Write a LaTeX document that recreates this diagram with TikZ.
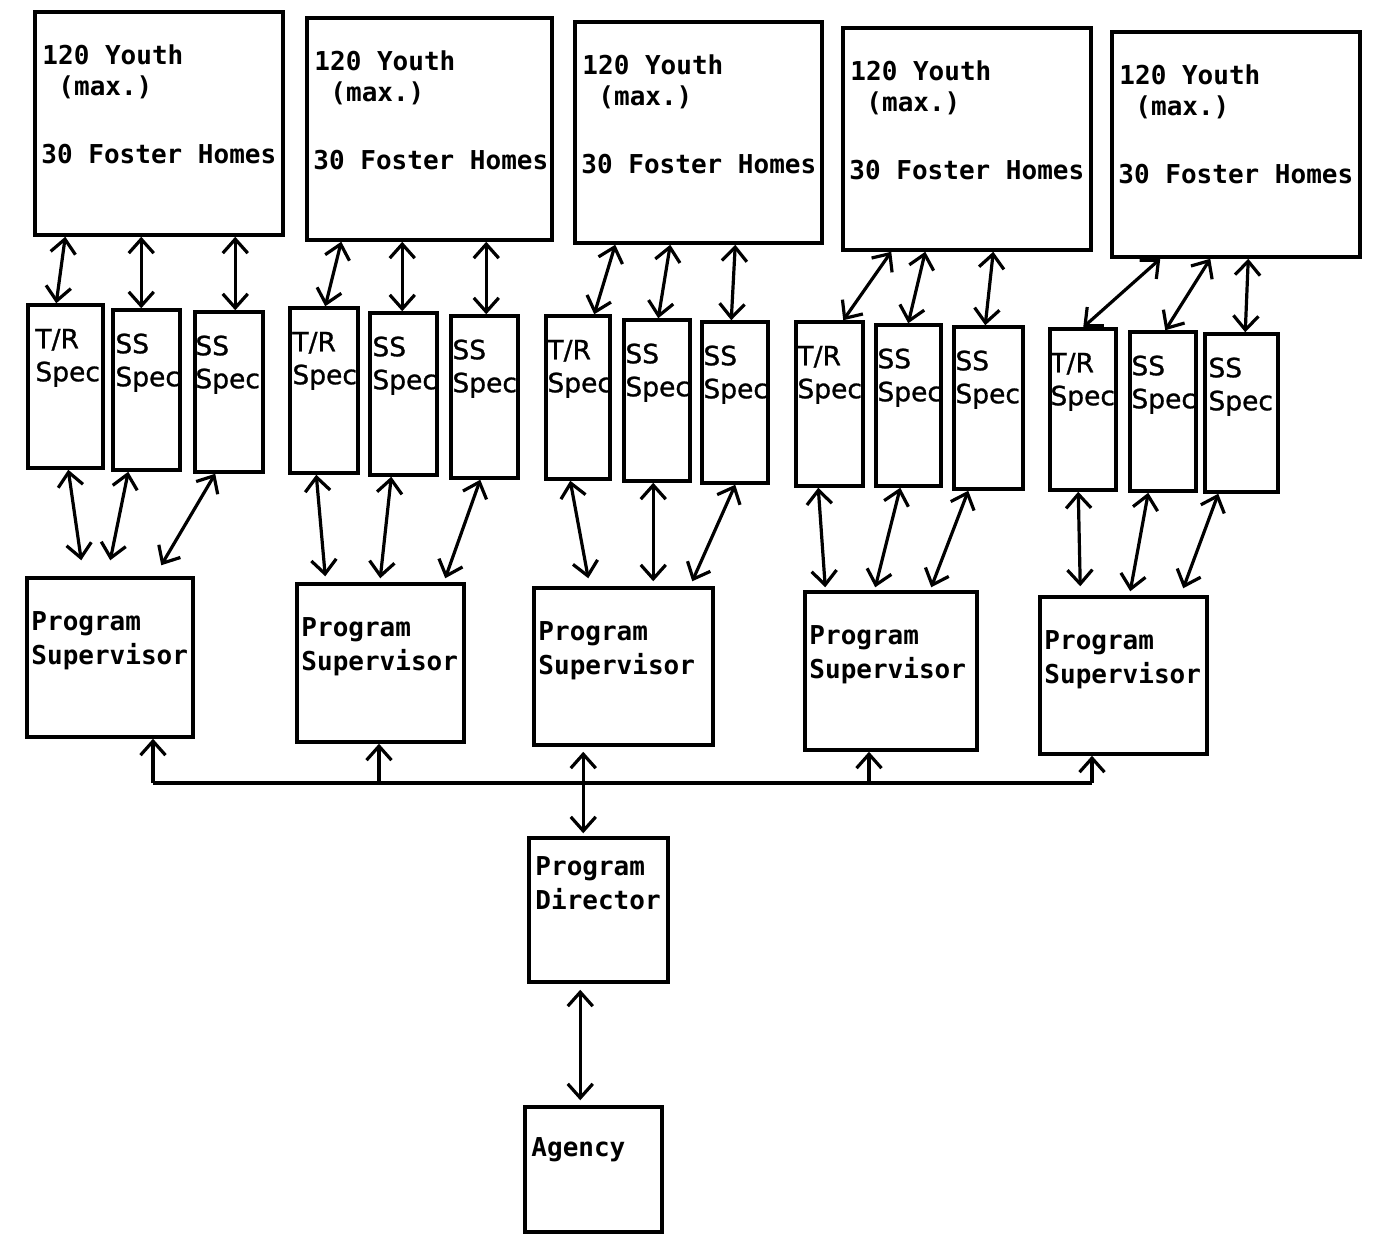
\documentclass[tikz,border=0pt]{standalone}
\usepackage{fontspec}
\newfontfamily\monof{DejaVu Sans Mono}
\newfontfamily\specf[FakeBold=1]{DejaVu Sans}
\usetikzlibrary{arrows.meta,calc,fit}
\begin{document}
\begin{tikzpicture}[x=1pt,y=-1pt,
  mytip/.tip={Straight Barb[length=14pt,width=25pt]},
  box/.style={draw, line width=3.5pt, inner sep=0pt},
  con/.style={line width=3.2pt},
  dbl/.style={con, mytip-mytip},
  arr/.style={con, -mytip},
  mtext/.style={font=\monof\bfseries\fontsize{26}{31}\selectfont, anchor=base west, inner sep=0pt},
  stext/.style={font=\specf\fontsize{26.5}{31}\selectfont, anchor=base west, inner sep=0pt}]
\useasboundingbox (0,0) rectangle (1375,1234);
% Youth boxes
\foreach \n/\xa/\ya/\xb/\yb in {y1/35/12/283/235, y2/307/18/552/240, y3/575/22/822/243, y4/843/28/1091/250, y5/1112/32/1360/257}{
  \node[box, fit={(\xa,\ya) (\xb,\yb)}] (\n) {};
  \node[mtext] (\n-a) at ($(\n.north west)+(9,54)$) {120 Youth};
  \node[mtext] (\n-b) at ($(\n.north west)+(25,85)$) {(max.)};
  \node[mtext] (\n-c) at ($(\n.north west)+(8,153)$) {30 Foster Homes};
}
% Spec boxes
\foreach \n/\l/\xa/\ya/\xb/\yb/\tx in {t1/T\slash R/28/305/103/468/9, a1/SS/113/310/180/470/4, b1/SS/195/312/263/472/2,
  t2/T\slash R/290/308/358/473/4, a2/SS/370/313/437/475/4, b2/SS/451/316/518/478/3,
  t3/T\slash R/546/316/610/479/3, a3/SS/624/320/690/481/3, b3/SS/702/322/768/483/3,
  t4/T\slash R/796/322/863/486/3, a4/SS/876/325/941/486/3, b4/SS/954/327/1023/489/3,
  t5/T\slash R/1050/329/1116/490/2, a5/SS/1130/332/1196/491/3, b5/SS/1205/334/1278/492/5}{
  \node[box, fit={(\xa,\ya) (\xb,\yb)}] (\n) {};
  \node[stext] (\n-a) at ($(\n.north west)+(\tx,45)$) {\l};
  \node[stext] (\n-b) at ($(\n.north west)+(\tx,78)$) {Spec};
}
% Supervisor boxes
\foreach \n/\xa/\ya/\xb/\yb in {s1/27/578/193/737, s2/297/584/464/742, s3/534/588/713/745, s4/805/592/977/750, s5/1040/597/1207/754}{
  \node[box, fit={(\xa,\ya) (\xb,\yb)}] (\n) {};
  \node[mtext] (\n-a) at ($(\n.north west)+(6,54)$) {Program};
  \node[mtext] (\n-b) at ($(\n.north west)+(6,88)$) {Supervisor};
}
% Director and agency
\node[box, fit={(529,838) (668,982)}] (d) {};
\node[mtext] (d-a) at ($(d.north west)+(8,39)$) {Program};
\node[mtext] (d-b) at ($(d.north west)+(8,73)$) {Director};
\node[box, fit={(525,1107) (662,1232)}] (g) {};
\node[mtext] (g-a) at ($(g.north west)+(8,51)$) {Agency};
% Youth <-> Spec
\foreach \y/\s/\dx/\ex in {y1/t1/32/30, y1/a1/108/30, y1/b1/202/42,
  y2/t2/36/37, y2/a2/97/34, y2/b2/181/37,
  y3/t3/42/50, y3/a3/97/36, y3/b3/162/31,
  y4/t4/50/49, y4/a4/84/34, y4/b4/152/33,
  y5/t5/50/35, y5/a5/100/37, y5/b5/138/42}{
  \draw[dbl] ($(\y.south west)+(\dx,0)$) -- ($(\s.north west)+(\ex,0)$);
}
% Spec <-> Supervisor
\foreach \s/\p/\dx/\ex/\ey in {t1/s1/42/56/-16, a1/s1/17/85/-16, b1/s1/22/136/-11,
  t2/s2/28/30/-6, a2/s2/23/85/-4, b2/s2/31/150/-4,
  t3/s3/26/56/-8, a3/s3/31/121/-5, b3/s3/35/160/-5,
  t4/s4/24/22/-3, a4/s4/26/72/-3, b4/s4/16/128/-3,
  t5/s5/30/42/-9, a5/s5/20/92/-4, b5/s5/15/145/-7}{
  \draw[dbl] ($(\s.south west)+(\dx,0)$) -- ($(\p.north west)+(\ex,\ey)$);
}
% Bus
\coordinate (bus1) at (153,783);
\coordinate (bus2) at (379,783);
\coordinate (bus3) at (585,783);
\coordinate (bus4) at (869,783);
\coordinate (bus5) at (1092,783);
\draw[con] (bus1) -- (bus5);
\draw[arr] (bus1) -- (bus1 |- s1.south);
\draw[arr] (bus2) -- (bus2 |- s2.south);
\draw[arr] (bus4) -- (bus4 |- s4.south);
\draw[arr] (bus5) -- (bus5 |- s5.south);
\draw[dbl] ($(s3.south west)+(51,5)$) -- ($(d.north west)+(56,-3)$);
\draw[dbl] ($(d.south west)+(53,6)$) -- ($(g.north west)+(57,-5)$);
\end{tikzpicture}
\end{document}
